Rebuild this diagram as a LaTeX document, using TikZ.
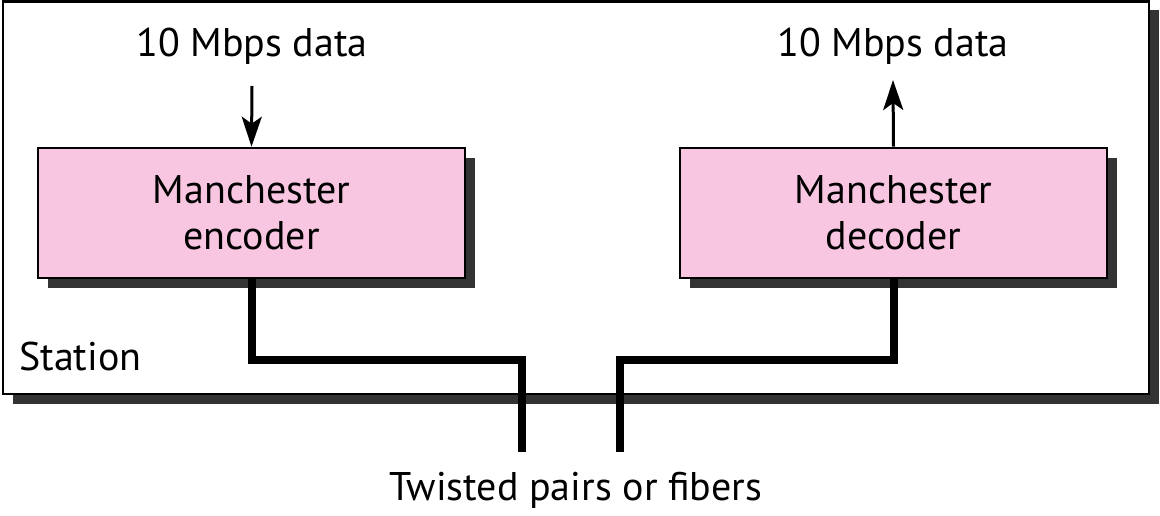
\documentclass[tikz,border=0pt]{standalone}
\usepackage{fontspec}
\setmainfont{PT Sans}
\usetikzlibrary{arrows.meta}
\definecolor{boxpink}{HTML}{F9C6E2}
\definecolor{shadowgray}{HTML}{333333}
\tikzset{
  station/.style={draw=black, line width=2.6pt, fill=white},
  codec/.style={draw=black, line width=2.6pt, fill=boxpink, minimum width=427pt, minimum height=130pt, inner sep=0pt, align=center, font=\fontsize{40}{46}\selectfont},
  shade/.style={fill=shadowgray, draw=none},
  lbl/.style={inner sep=0pt, font=\fontsize{40}{46}\selectfont},
  wire/.style={line width=8pt, line cap=butt, line join=miter},
  dataarrow/.style={line width=3pt, -{Stealth[length=30pt, width=20pt, inset=7pt]}}
}
\begin{document}
\begin{tikzpicture}[x=1pt, y=-1pt]
\useasboundingbox (0,0) rectangle (1160,516);
% station shadow and box
\fill[shade] (13,10) rectangle (1159,404);
\draw[station] (3,1.5) rectangle (1149,394);
\node[lbl, anchor=west] (st) at (19,356) {Station};
% codec shadows
\fill[shade] (48,158) rectangle (475,288);
\fill[shade] (690,158) rectangle (1117,288);
% codec boxes
\node[codec] (enc) at (251.5,213) {Manchester\\encoder};
\node[codec] (dec) at (893.5,213) {Manchester\\decoder};
% data labels
\node[lbl] (din) at (252,46) {10 Mbps data};
\node[lbl] (dout) at (893,46) {10 Mbps data};
\coordinate (dinend) at (252,86);
\coordinate (doutend) at (893,80);
\draw[dataarrow] (dinend) -- (enc.north);
\draw[dataarrow] (dec.north) -- (doutend);
% wires
\coordinate (wl) at (522,452);
\coordinate (wr) at (620,452);
\draw[wire] (enc.south) -- (enc.south |- 0,360) -| (wl);
\draw[wire] (dec.south) -- (dec.south |- 0,360) -| (wr);
\node[lbl] (tw) at (576,490) {Twisted pairs or fibers};
\end{tikzpicture}
\end{document}
